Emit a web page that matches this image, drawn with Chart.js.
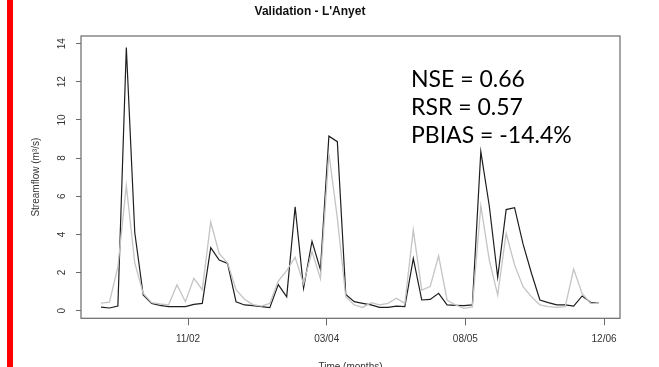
<!DOCTYPE html>
<html>
<head>
<meta charset="utf-8">
<script src="https://cdn.jsdelivr.net/npm/chart.js@4/dist/chart.umd.min.js"></script>
<style>
    body { margin: 0; background: #fff; overflow: hidden; }
    #wrap { position: relative; width: 659px; height: 380px; }
    #redBar { position: absolute; left: 7px; top: 0; width: 6px; height: 380px; background: #ff0000; }
</style>
</head>
<body>
<div id="wrap">
    <div id="redBar"></div>
    <canvas id="canvasGraph"></canvas>
</div>
<script>
// DATA

// monthly streamflow (m3/s), one value per month from jan 2002
let observed = [0.19, 0.14, 0.24, 13.8, 4.1, 0.82, 0.38, 0.28, 0.21, 0.21,
                0.21, 0.33, 0.38, 3.3, 2.65, 2.47, 0.46, 0.3, 0.26, 0.21,
                0.16, 1.37, 0.73, 5.45, 1.18, 3.64, 2.15, 9.15, 8.86, 0.85,
                0.47, 0.38, 0.3, 0.17, 0.17, 0.24, 0.21, 2.74, 0.56, 0.59,
                0.91, 0.3, 0.28, 0.26, 0.3, 8.34, 5.5, 1.75, 5.3, 5.4,
                3.5, 1.96, 0.56, 0.42, 0.3, 0.3, 0.24, 0.77, 0.44, 0.38];
let simulated = [0.4, 0.45, 2.3, 6.55, 2.5, 0.9, 0.42, 0.35, 0.3, 1.35,
                 0.47, 1.7, 1.1, 4.65, 3.0, 2.5, 1.1, 0.6, 0.32, 0.24,
                 0.38, 1.55, 2.1, 2.8, 1.4, 3.1, 1.68, 8.25, 4.85, 0.73,
                 0.3, 0.17, 0.42, 0.3, 0.38, 0.65, 0.38, 4.23, 1.08, 1.26,
                 2.87, 0.56, 0.3, 0.12, 0.2, 5.5, 2.66, 0.82, 4.06, 2.4,
                 1.26, 0.73, 0.3, 0.21, 0.17, 0.21, 2.18, 0.9, 0.38, 0.38];

// x ticks (in months since jan 2002) and their labels
let tickMonths = [10.31, 26.74, 43.17, 59.6];
let tickLabels = ['11/02', '03/04', '08/05', '12/06'];
let yTicks = [0, 2, 4, 6, 8, 10, 12, 14];

// fit statistics
let stats = ['NSE = 0.66', 'RSR = 0.57', 'PBIAS = -14.4%'];

// build points {x: month, y: value}
function toPoints(array){
    return array.map((v, i) => ({x: i, y: v}));
}

// BOX AROUND THE PLOT + STATS TEXT
let boxPlugin = {
    id: 'boxPlugin',
    afterDraw(chart){
        let c = chart.ctx;
        let a = chart.chartArea;
        c.save();
        c.strokeStyle = '#6a6a6a';
        c.lineWidth = 1.2;
        c.strokeRect(a.left, a.top, a.right - a.left, a.bottom - a.top);
        c.fillStyle = '#000';
        c.font = '23px Lato';
        c.textBaseline = 'alphabetic';
        c.textAlign = 'left';
        let base = [87.3, 115.2, 143.3];
        for(let i = 0; i < stats.length; i++){
            c.fillText(stats[i], 411, base[i]);
        }
        c.restore();
    }
};

let ctx = document.getElementById('canvasGraph').getContext('2d');
let graph = new Chart(ctx, {
    type: 'line',
    data: {
        datasets: [{
            label: 'simulated',
            data: toPoints(simulated),
            borderColor: '#c4c4c4',
            borderWidth: 1.3,
            pointRadius: 0,
            tension: 0,
            fill: false
        }, {
            label: 'observed',
            data: toPoints(observed),
            borderColor: '#1e1e1e',
            borderWidth: 1.2,
            pointRadius: 0,
            tension: 0,
            fill: false
        }]
    },
    options: {
        responsive: true,
        maintainAspectRatio: false,
        devicePixelRatio: 1,
        animation: false,
        layout: { padding: { left: 0, right: 39, top: 0, bottom: 0 } },
        plugins: {
            legend: { display: false },
            tooltip: { enabled: false },
            title: {
                display: true,
                text: 'Validation - L\'Anyet',
                color: '#111',
                font: { family: 'Liberation Sans', size: 12, weight: 'bold' },
                padding: { top: 4.5, bottom: 17.1 }
            }
        },
        scales: {
            x: {
                type: 'linear',
                min: -2.37,
                max: 61.49,
                afterBuildTicks: (scale) => { scale.ticks = tickMonths.map(v => ({value: v})); },
                afterFit: (scale) => { scale.height = 61.7; },
                ticks: {
                    color: '#333',
                    font: { family: 'Liberation Sans', size: 10 },
                    padding: 8.2,
                    maxRotation: 0,
                    autoSkip: false,
                    callback: (value, index) => tickLabels[index]
                },
                grid: { drawOnChartArea: false, drawTicks: true, tickLength: 7, color: '#6a6a6a', lineWidth: 1 },
                border: { display: false },
                title: {
                    display: true,
                    text: 'Time (months)',
                    color: '#333',
                    font: { family: 'Liberation Sans', size: 10 },
                    padding: { top: 0, bottom: 6.5 }
                }
            },
            y: {
                type: 'linear',
                min: -0.4,
                max: 14.4,
                afterBuildTicks: (scale) => { scale.ticks = yTicks.map(v => ({value: v})); },
                afterFit: (scale) => { scale.width = 81; },
                ticks: {
                    color: '#333',
                    font: { family: 'Liberation Sans', size: 10 },
                    minRotation: 90,
                    maxRotation: 90,
                    crossAlign: 'center',
                    padding: 8.4
                },
                grid: { drawOnChartArea: false, drawTicks: true, tickLength: 5, color: '#6a6a6a', lineWidth: 1 },
                border: { display: false },
                title: {
                    display: true,
                    text: 'Streamflow (m³/s)',
                    color: '#333',
                    font: { family: 'Liberation Sans', size: 10 },
                    padding: { top: 30, bottom: 0 }
                }
            }
        }
    },
    plugins: [boxPlugin]
});
</script>
</body>
</html>
